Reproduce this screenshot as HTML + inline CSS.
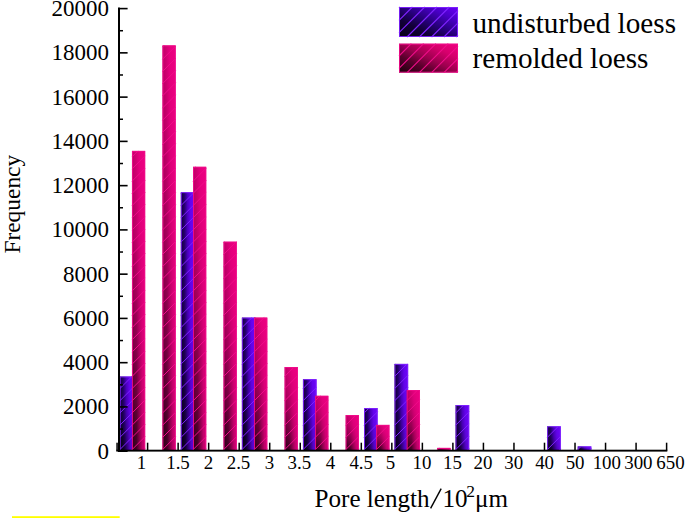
<!DOCTYPE html>
<html><head><meta charset="utf-8"><style>
html,body{margin:0;padding:0;background:#fff;}
svg{display:block;}
text{font-family:"Liberation Serif",serif;fill:#000;}
.yl{font-size:23.8px;}
.xl{font-size:18.9px;}
.t{font-size:25.1px;}
.f{font-size:23.4px;}
.lg{font-size:29.2px;}
</style></head><body>
<svg width="685" height="518" viewBox="0 0 685 518">
<defs>
<linearGradient id="hb" x1="0" y1="0" x2="1" y2="0">
 <stop offset="0" stop-color="#140038"/><stop offset="0.25" stop-color="#24006c"/><stop offset="0.5" stop-color="#5000c8"/><stop offset="0.7" stop-color="#6404ee"/><stop offset="1" stop-color="#6e08fa"/>
</linearGradient>
<linearGradient id="hp" x1="0" y1="0" x2="1" y2="0">
 <stop offset="0" stop-color="#c00068"/><stop offset="0.3" stop-color="#d40074"/><stop offset="0.55" stop-color="#e6007e"/><stop offset="1" stop-color="#ee0082"/>
</linearGradient>
<linearGradient id="vb" x1="0" y1="0" x2="0" y2="1">
 <stop offset="0" stop-color="#000" stop-opacity="0"/><stop offset="0.4" stop-color="#000" stop-opacity="0.12"/><stop offset="0.7" stop-color="#000" stop-opacity="0.38"/><stop offset="1" stop-color="#000" stop-opacity="0.72"/>
</linearGradient>
<linearGradient id="vp" x1="0" y1="0" x2="0" y2="1">
 <stop offset="0" stop-color="#000" stop-opacity="0"/><stop offset="0.3" stop-color="#000" stop-opacity="0.12"/><stop offset="0.55" stop-color="#000" stop-opacity="0.3"/><stop offset="0.8" stop-color="#000" stop-opacity="0.55"/><stop offset="1" stop-color="#000" stop-opacity="0.8"/>
</linearGradient>
<linearGradient id="mg" x1="0" y1="0" x2="1" y2="0">
 <stop offset="0" stop-color="#fff"/><stop offset="0.35" stop-color="#e0e0e0"/><stop offset="0.6" stop-color="#808080"/><stop offset="0.8" stop-color="#383838"/><stop offset="1" stop-color="#282828"/>
</linearGradient>
<linearGradient id="lb" x1="0" y1="1" x2="1" y2="0">
 <stop offset="0" stop-color="#050012"/><stop offset="0.3" stop-color="#120038"/><stop offset="0.5" stop-color="#260078"/><stop offset="0.75" stop-color="#4800c4"/><stop offset="1" stop-color="#6a00fa"/>
</linearGradient>
<linearGradient id="lp" x1="0" y1="1" x2="1" y2="0">
 <stop offset="0" stop-color="#1c000c"/><stop offset="0.3" stop-color="#5a002c"/><stop offset="0.5" stop-color="#9c004e"/><stop offset="0.75" stop-color="#d6006c"/><stop offset="1" stop-color="#f20082"/>
</linearGradient>
<mask id="mk" maskContentUnits="objectBoundingBox"><rect width="1" height="1" fill="url(#mg)"/></mask>
</defs>
<rect width="685" height="518" fill="#fff"/>
<rect x="119.77" y="376.50" width="13.60" height="73.50" fill="url(#hb)"/>
<rect x="119.77" y="376.50" width="13.60" height="73.50" fill="url(#vb)" mask="url(#mk)"/>
<path d="M131.67 450.00L133.37 448.30M119.77 449.70L133.37 436.10M119.77 437.50L133.37 423.90M119.77 425.30L133.37 411.70M119.77 413.10L133.37 399.50M119.77 400.90L133.37 387.30M119.77 388.70L131.97 376.50M119.77 376.50L119.77 376.50" stroke="#7f22ff" stroke-width="1" fill="none"/>
<rect x="120.22" y="376.95" width="12.70" height="73.50" fill="none" stroke="#7f22ff" stroke-width="0.9"/>
<rect x="131.97" y="150.90" width="13.20" height="299.10" fill="url(#hp)"/>
<rect x="131.97" y="150.90" width="13.20" height="299.10" fill="url(#vp)" mask="url(#mk)"/>
<path d="M143.87 450.00L145.17 448.70M131.97 449.70L145.17 436.50M131.97 437.50L145.17 424.30M131.97 425.30L145.17 412.10M131.97 413.10L145.17 399.90M131.97 400.90L145.17 387.70M131.97 388.70L145.17 375.50M131.97 376.50L145.17 363.30M131.97 364.30L145.17 351.10M131.97 352.10L145.17 338.90M131.97 339.90L145.17 326.70M131.97 327.70L145.17 314.50M131.97 315.50L145.17 302.30M131.97 303.30L145.17 290.10M131.97 291.10L145.17 277.90M131.97 278.90L145.17 265.70M131.97 266.70L145.17 253.50M131.97 254.50L145.17 241.30M131.97 242.30L145.17 229.10M131.97 230.10L145.17 216.90M131.97 217.90L145.17 204.70M131.97 205.70L145.17 192.50M131.97 193.50L145.17 180.30M131.97 181.30L145.17 168.10M131.97 169.10L145.17 155.90M131.97 156.90L137.97 150.90" stroke="#f00c8a" stroke-width="1" fill="none"/>
<rect x="132.42" y="151.35" width="12.30" height="299.10" fill="none" stroke="#f00c8a" stroke-width="0.9"/>
<rect x="162.50" y="45.40" width="13.20" height="404.60" fill="url(#hp)"/>
<rect x="162.50" y="45.40" width="13.20" height="404.60" fill="url(#vp)" mask="url(#mk)"/>
<path d="M174.40 450.00L175.70 448.70M162.50 449.70L175.70 436.50M162.50 437.50L175.70 424.30M162.50 425.30L175.70 412.10M162.50 413.10L175.70 399.90M162.50 400.90L175.70 387.70M162.50 388.70L175.70 375.50M162.50 376.50L175.70 363.30M162.50 364.30L175.70 351.10M162.50 352.10L175.70 338.90M162.50 339.90L175.70 326.70M162.50 327.70L175.70 314.50M162.50 315.50L175.70 302.30M162.50 303.30L175.70 290.10M162.50 291.10L175.70 277.90M162.50 278.90L175.70 265.70M162.50 266.70L175.70 253.50M162.50 254.50L175.70 241.30M162.50 242.30L175.70 229.10M162.50 230.10L175.70 216.90M162.50 217.90L175.70 204.70M162.50 205.70L175.70 192.50M162.50 193.50L175.70 180.30M162.50 181.30L175.70 168.10M162.50 169.10L175.70 155.90M162.50 156.90L175.70 143.70M162.50 144.70L175.70 131.50M162.50 132.50L175.70 119.30M162.50 120.30L175.70 107.10M162.50 108.10L175.70 94.90M162.50 95.90L175.70 82.70M162.50 83.70L175.70 70.50M162.50 71.50L175.70 58.30M162.50 59.30L175.70 46.10M162.50 47.10L164.20 45.40" stroke="#f00c8a" stroke-width="1" fill="none"/>
<rect x="162.95" y="45.85" width="12.30" height="404.60" fill="none" stroke="#f00c8a" stroke-width="0.9"/>
<rect x="180.83" y="192.20" width="13.60" height="257.80" fill="url(#hb)"/>
<rect x="180.83" y="192.20" width="13.60" height="257.80" fill="url(#vb)" mask="url(#mk)"/>
<path d="M192.73 450.00L194.43 448.30M180.83 449.70L194.43 436.10M180.83 437.50L194.43 423.90M180.83 425.30L194.43 411.70M180.83 413.10L194.43 399.50M180.83 400.90L194.43 387.30M180.83 388.70L194.43 375.10M180.83 376.50L194.43 362.90M180.83 364.30L194.43 350.70M180.83 352.10L194.43 338.50M180.83 339.90L194.43 326.30M180.83 327.70L194.43 314.10M180.83 315.50L194.43 301.90M180.83 303.30L194.43 289.70M180.83 291.10L194.43 277.50M180.83 278.90L194.43 265.30M180.83 266.70L194.43 253.10M180.83 254.50L194.43 240.90M180.83 242.30L194.43 228.70M180.83 230.10L194.43 216.50M180.83 217.90L194.43 204.30M180.83 205.70L194.33 192.20M180.83 193.50L182.13 192.20" stroke="#7f22ff" stroke-width="1" fill="none"/>
<rect x="181.28" y="192.65" width="12.70" height="257.80" fill="none" stroke="#7f22ff" stroke-width="0.9"/>
<rect x="193.03" y="166.80" width="13.20" height="283.20" fill="url(#hp)"/>
<rect x="193.03" y="166.80" width="13.20" height="283.20" fill="url(#vp)" mask="url(#mk)"/>
<path d="M204.93 450.00L206.23 448.70M193.03 449.70L206.23 436.50M193.03 437.50L206.23 424.30M193.03 425.30L206.23 412.10M193.03 413.10L206.23 399.90M193.03 400.90L206.23 387.70M193.03 388.70L206.23 375.50M193.03 376.50L206.23 363.30M193.03 364.30L206.23 351.10M193.03 352.10L206.23 338.90M193.03 339.90L206.23 326.70M193.03 327.70L206.23 314.50M193.03 315.50L206.23 302.30M193.03 303.30L206.23 290.10M193.03 291.10L206.23 277.90M193.03 278.90L206.23 265.70M193.03 266.70L206.23 253.50M193.03 254.50L206.23 241.30M193.03 242.30L206.23 229.10M193.03 230.10L206.23 216.90M193.03 217.90L206.23 204.70M193.03 205.70L206.23 192.50M193.03 193.50L206.23 180.30M193.03 181.30L206.23 168.10M193.03 169.10L195.33 166.80" stroke="#f00c8a" stroke-width="1" fill="none"/>
<rect x="193.48" y="167.25" width="12.30" height="283.20" fill="none" stroke="#f00c8a" stroke-width="0.9"/>
<rect x="223.56" y="241.70" width="13.20" height="208.30" fill="url(#hp)"/>
<rect x="223.56" y="241.70" width="13.20" height="208.30" fill="url(#vp)" mask="url(#mk)"/>
<path d="M235.46 450.00L236.76 448.70M223.56 449.70L236.76 436.50M223.56 437.50L236.76 424.30M223.56 425.30L236.76 412.10M223.56 413.10L236.76 399.90M223.56 400.90L236.76 387.70M223.56 388.70L236.76 375.50M223.56 376.50L236.76 363.30M223.56 364.30L236.76 351.10M223.56 352.10L236.76 338.90M223.56 339.90L236.76 326.70M223.56 327.70L236.76 314.50M223.56 315.50L236.76 302.30M223.56 303.30L236.76 290.10M223.56 291.10L236.76 277.90M223.56 278.90L236.76 265.70M223.56 266.70L236.76 253.50M223.56 254.50L236.36 241.70M223.56 242.30L224.16 241.70" stroke="#f00c8a" stroke-width="1" fill="none"/>
<rect x="224.01" y="242.15" width="12.30" height="208.30" fill="none" stroke="#f00c8a" stroke-width="0.9"/>
<rect x="241.89" y="317.60" width="13.60" height="132.40" fill="url(#hb)"/>
<rect x="241.89" y="317.60" width="13.60" height="132.40" fill="url(#vb)" mask="url(#mk)"/>
<path d="M253.79 450.00L255.49 448.30M241.89 449.70L255.49 436.10M241.89 437.50L255.49 423.90M241.89 425.30L255.49 411.70M241.89 413.10L255.49 399.50M241.89 400.90L255.49 387.30M241.89 388.70L255.49 375.10M241.89 376.50L255.49 362.90M241.89 364.30L255.49 350.70M241.89 352.10L255.49 338.50M241.89 339.90L255.49 326.30M241.89 327.70L251.99 317.60" stroke="#7f22ff" stroke-width="1" fill="none"/>
<rect x="242.34" y="318.05" width="12.70" height="132.40" fill="none" stroke="#7f22ff" stroke-width="0.9"/>
<rect x="254.09" y="317.60" width="13.20" height="132.40" fill="url(#hp)"/>
<rect x="254.09" y="317.60" width="13.20" height="132.40" fill="url(#vp)" mask="url(#mk)"/>
<path d="M265.99 450.00L267.29 448.70M254.09 449.70L267.29 436.50M254.09 437.50L267.29 424.30M254.09 425.30L267.29 412.10M254.09 413.10L267.29 399.90M254.09 400.90L267.29 387.70M254.09 388.70L267.29 375.50M254.09 376.50L267.29 363.30M254.09 364.30L267.29 351.10M254.09 352.10L267.29 338.90M254.09 339.90L267.29 326.70M254.09 327.70L264.19 317.60" stroke="#f00c8a" stroke-width="1" fill="none"/>
<rect x="254.54" y="318.05" width="12.30" height="132.40" fill="none" stroke="#f00c8a" stroke-width="0.9"/>
<rect x="284.62" y="367.00" width="13.20" height="83.00" fill="url(#hp)"/>
<rect x="284.62" y="367.00" width="13.20" height="83.00" fill="url(#vp)" mask="url(#mk)"/>
<path d="M296.52 450.00L297.82 448.70M284.62 449.70L297.82 436.50M284.62 437.50L297.82 424.30M284.62 425.30L297.82 412.10M284.62 413.10L297.82 399.90M284.62 400.90L297.82 387.70M284.62 388.70L297.82 375.50M284.62 376.50L294.12 367.00" stroke="#f00c8a" stroke-width="1" fill="none"/>
<rect x="285.07" y="367.45" width="12.30" height="83.00" fill="none" stroke="#f00c8a" stroke-width="0.9"/>
<rect x="302.95" y="379.20" width="13.60" height="70.80" fill="url(#hb)"/>
<rect x="302.95" y="379.20" width="13.60" height="70.80" fill="url(#vb)" mask="url(#mk)"/>
<path d="M314.85 450.00L316.55 448.30M302.95 449.70L316.55 436.10M302.95 437.50L316.55 423.90M302.95 425.30L316.55 411.70M302.95 413.10L316.55 399.50M302.95 400.90L316.55 387.30M302.95 388.70L312.45 379.20" stroke="#7f22ff" stroke-width="1" fill="none"/>
<rect x="303.40" y="379.65" width="12.70" height="70.80" fill="none" stroke="#7f22ff" stroke-width="0.9"/>
<rect x="315.15" y="395.80" width="13.20" height="54.20" fill="url(#hp)"/>
<rect x="315.15" y="395.80" width="13.20" height="54.20" fill="url(#vp)" mask="url(#mk)"/>
<path d="M327.05 450.00L328.35 448.70M315.15 449.70L328.35 436.50M315.15 437.50L328.35 424.30M315.15 425.30L328.35 412.10M315.15 413.10L328.35 399.90M315.15 400.90L320.25 395.80" stroke="#f00c8a" stroke-width="1" fill="none"/>
<rect x="315.60" y="396.25" width="12.30" height="54.20" fill="none" stroke="#f00c8a" stroke-width="0.9"/>
<rect x="345.68" y="415.10" width="13.20" height="34.90" fill="url(#hp)"/>
<rect x="345.68" y="415.10" width="13.20" height="34.90" fill="url(#vp)" mask="url(#mk)"/>
<path d="M357.58 450.00L358.88 448.70M345.68 449.70L358.88 436.50M345.68 437.50L358.88 424.30M345.68 425.30L355.88 415.10" stroke="#f00c8a" stroke-width="1" fill="none"/>
<rect x="346.13" y="415.55" width="12.30" height="34.90" fill="none" stroke="#f00c8a" stroke-width="0.9"/>
<rect x="364.01" y="408.00" width="13.60" height="42.00" fill="url(#hb)"/>
<rect x="364.01" y="408.00" width="13.60" height="42.00" fill="url(#vb)" mask="url(#mk)"/>
<path d="M375.91 450.00L377.61 448.30M364.01 449.70L377.61 436.10M364.01 437.50L377.61 423.90M364.01 425.30L377.61 411.70M364.01 413.10L369.11 408.00" stroke="#7f22ff" stroke-width="1" fill="none"/>
<rect x="364.46" y="408.45" width="12.70" height="42.00" fill="none" stroke="#7f22ff" stroke-width="0.9"/>
<rect x="376.21" y="424.90" width="13.20" height="25.10" fill="url(#hp)"/>
<rect x="376.21" y="424.90" width="13.20" height="25.10" fill="url(#vp)" mask="url(#mk)"/>
<path d="M388.11 450.00L389.41 448.70M376.21 449.70L389.41 436.50M376.21 437.50L388.81 424.90M376.21 425.30L376.61 424.90" stroke="#f00c8a" stroke-width="1" fill="none"/>
<rect x="376.66" y="425.35" width="12.30" height="25.10" fill="none" stroke="#f00c8a" stroke-width="0.9"/>
<rect x="394.54" y="363.90" width="13.60" height="86.10" fill="url(#hb)"/>
<rect x="394.54" y="363.90" width="13.60" height="86.10" fill="url(#vb)" mask="url(#mk)"/>
<path d="M406.44 450.00L408.14 448.30M394.54 449.70L408.14 436.10M394.54 437.50L408.14 423.90M394.54 425.30L408.14 411.70M394.54 413.10L408.14 399.50M394.54 400.90L408.14 387.30M394.54 388.70L408.14 375.10M394.54 376.50L407.14 363.90M394.54 364.30L394.94 363.90" stroke="#7f22ff" stroke-width="1" fill="none"/>
<rect x="394.99" y="364.35" width="12.70" height="86.10" fill="none" stroke="#7f22ff" stroke-width="0.9"/>
<rect x="406.74" y="390.00" width="13.20" height="60.00" fill="url(#hp)"/>
<rect x="406.74" y="390.00" width="13.20" height="60.00" fill="url(#vp)" mask="url(#mk)"/>
<path d="M418.64 450.00L419.94 448.70M406.74 449.70L419.94 436.50M406.74 437.50L419.94 424.30M406.74 425.30L419.94 412.10M406.74 413.10L419.94 399.90M406.74 400.90L417.64 390.00" stroke="#f00c8a" stroke-width="1" fill="none"/>
<rect x="407.19" y="390.45" width="12.30" height="60.00" fill="none" stroke="#f00c8a" stroke-width="0.9"/>
<rect x="437.27" y="447.90" width="13.20" height="2.10" fill="url(#hp)"/>
<rect x="437.27" y="447.90" width="13.20" height="2.10" fill="url(#vp)" mask="url(#mk)"/>
<path d="M449.17 450.00L450.47 448.70M437.27 449.70L439.07 447.90" stroke="#f00c8a" stroke-width="1" fill="none"/>
<rect x="437.72" y="448.35" width="12.30" height="2.10" fill="none" stroke="#f00c8a" stroke-width="0.9"/>
<rect x="455.60" y="405.00" width="13.60" height="45.00" fill="url(#hb)"/>
<rect x="455.60" y="405.00" width="13.60" height="45.00" fill="url(#vb)" mask="url(#mk)"/>
<path d="M467.50 450.00L469.20 448.30M455.60 449.70L469.20 436.10M455.60 437.50L469.20 423.90M455.60 425.30L469.20 411.70M455.60 413.10L463.70 405.00" stroke="#7f22ff" stroke-width="1" fill="none"/>
<rect x="456.05" y="405.45" width="12.70" height="45.00" fill="none" stroke="#7f22ff" stroke-width="0.9"/>
<rect x="547.19" y="426.30" width="13.60" height="23.70" fill="url(#hb)"/>
<rect x="547.19" y="426.30" width="13.60" height="23.70" fill="url(#vb)" mask="url(#mk)"/>
<path d="M559.09 450.00L560.79 448.30M547.19 449.70L560.79 436.10M547.19 437.50L558.39 426.30" stroke="#7f22ff" stroke-width="1" fill="none"/>
<rect x="547.64" y="426.75" width="12.70" height="23.70" fill="none" stroke="#7f22ff" stroke-width="0.9"/>
<rect x="577.72" y="446.40" width="13.60" height="3.60" fill="url(#hb)"/>
<rect x="577.72" y="446.40" width="13.60" height="3.60" fill="url(#vb)" mask="url(#mk)"/>
<path d="M589.62 450.00L591.32 448.30M577.72 449.70L581.02 446.40" stroke="#7f22ff" stroke-width="1" fill="none"/>
<rect x="578.17" y="446.85" width="12.70" height="3.60" fill="none" stroke="#7f22ff" stroke-width="0.9"/>
<rect x="118" y="7.6" width="2" height="444" fill="#000"/>
<rect x="116.3" y="449.7" width="551" height="1.9" fill="#000"/>
<rect x="116.32" y="442.7" width="1.5" height="8" fill="#000"/>
<rect x="146.85" y="442.7" width="1.5" height="8" fill="#000"/>
<rect x="177.38" y="442.7" width="1.5" height="8" fill="#000"/>
<rect x="207.91" y="442.7" width="1.5" height="8" fill="#000"/>
<rect x="238.44" y="442.7" width="1.5" height="8" fill="#000"/>
<rect x="268.97" y="442.7" width="1.5" height="8" fill="#000"/>
<rect x="299.50" y="442.7" width="1.5" height="8" fill="#000"/>
<rect x="330.03" y="442.7" width="1.5" height="8" fill="#000"/>
<rect x="360.56" y="442.7" width="1.5" height="8" fill="#000"/>
<rect x="391.09" y="442.7" width="1.5" height="8" fill="#000"/>
<rect x="421.62" y="442.7" width="1.5" height="8" fill="#000"/>
<rect x="452.15" y="442.7" width="1.5" height="8" fill="#000"/>
<rect x="482.68" y="442.7" width="1.5" height="8" fill="#000"/>
<rect x="513.21" y="442.7" width="1.5" height="8" fill="#000"/>
<rect x="543.74" y="442.7" width="1.5" height="8" fill="#000"/>
<rect x="574.27" y="442.7" width="1.5" height="8" fill="#000"/>
<rect x="604.80" y="442.7" width="1.5" height="8" fill="#000"/>
<rect x="635.33" y="442.7" width="1.5" height="8" fill="#000"/>
<rect x="665.86" y="442.7" width="1.5" height="8" fill="#000"/>
<rect x="118" y="7.80" width="9.6" height="1.6" fill="#000"/>
<rect x="118" y="29.98" width="5" height="1.5" fill="#000"/>
<rect x="118" y="52.06" width="9.6" height="1.6" fill="#000"/>
<rect x="118" y="74.24" width="5" height="1.5" fill="#000"/>
<rect x="118" y="96.32" width="9.6" height="1.6" fill="#000"/>
<rect x="118" y="118.50" width="5" height="1.5" fill="#000"/>
<rect x="118" y="140.58" width="9.6" height="1.6" fill="#000"/>
<rect x="118" y="162.76" width="5" height="1.5" fill="#000"/>
<rect x="118" y="184.84" width="9.6" height="1.6" fill="#000"/>
<rect x="118" y="207.02" width="5" height="1.5" fill="#000"/>
<rect x="118" y="229.10" width="9.6" height="1.6" fill="#000"/>
<rect x="118" y="251.28" width="5" height="1.5" fill="#000"/>
<rect x="118" y="273.36" width="9.6" height="1.6" fill="#000"/>
<rect x="118" y="295.54" width="5" height="1.5" fill="#000"/>
<rect x="118" y="317.62" width="9.6" height="1.6" fill="#000"/>
<rect x="118" y="339.80" width="5" height="1.5" fill="#000"/>
<rect x="118" y="361.88" width="9.6" height="1.6" fill="#000"/>
<rect x="118" y="384.06" width="5" height="1.5" fill="#000"/>
<rect x="118" y="406.14" width="9.6" height="1.6" fill="#000"/>
<rect x="118" y="428.32" width="5" height="1.5" fill="#000"/>
<rect x="118" y="450.40" width="9.6" height="1.6" fill="#000"/>
<text transform="translate(108.9 16.10) scale(0.965 1)" text-anchor="end" class="yl">20000</text>
<text transform="translate(108.9 60.36) scale(0.965 1)" text-anchor="end" class="yl">18000</text>
<text transform="translate(108.9 104.62) scale(0.965 1)" text-anchor="end" class="yl">16000</text>
<text transform="translate(108.9 148.88) scale(0.965 1)" text-anchor="end" class="yl">14000</text>
<text transform="translate(108.9 193.14) scale(0.965 1)" text-anchor="end" class="yl">12000</text>
<text transform="translate(108.9 237.40) scale(0.965 1)" text-anchor="end" class="yl">10000</text>
<text transform="translate(108.9 281.66) scale(0.965 1)" text-anchor="end" class="yl">8000</text>
<text transform="translate(108.9 325.92) scale(0.965 1)" text-anchor="end" class="yl">6000</text>
<text transform="translate(108.9 370.18) scale(0.965 1)" text-anchor="end" class="yl">4000</text>
<text transform="translate(108.9 414.44) scale(0.965 1)" text-anchor="end" class="yl">2000</text>
<text transform="translate(108.9 458.70) scale(0.965 1)" text-anchor="end" class="yl">0</text>
<text x="141.50" y="468.5" text-anchor="middle" class="xl">1</text>
<text x="178.00" y="468.5" text-anchor="middle" class="xl">1.5</text>
<text x="208.40" y="468.5" text-anchor="middle" class="xl">2</text>
<text x="238.50" y="468.5" text-anchor="middle" class="xl">2.5</text>
<text x="269.60" y="468.5" text-anchor="middle" class="xl">3</text>
<text x="299.40" y="468.5" text-anchor="middle" class="xl">3.5</text>
<text x="330.40" y="468.5" text-anchor="middle" class="xl">4</text>
<text x="361.20" y="468.5" text-anchor="middle" class="xl">4.5</text>
<text x="390.60" y="468.5" text-anchor="middle" class="xl">5</text>
<text x="422.00" y="468.5" text-anchor="middle" class="xl">10</text>
<text x="452.40" y="468.5" text-anchor="middle" class="xl">15</text>
<text x="483.00" y="468.5" text-anchor="middle" class="xl">20</text>
<text x="513.80" y="468.5" text-anchor="middle" class="xl">30</text>
<text x="544.60" y="468.5" text-anchor="middle" class="xl">40</text>
<text x="575.10" y="468.5" text-anchor="middle" class="xl">50</text>
<text x="606.80" y="468.5" text-anchor="middle" class="xl">100</text>
<text x="638.40" y="468.5" text-anchor="middle" class="xl">300</text>
<text x="670.50" y="468.5" text-anchor="middle" class="xl">650</text>
<text x="314.6" y="507.2" class="t">Pore length</text>
<path d="M430.6 508.3L441.2 488.6" stroke="#000" stroke-width="1.4" fill="none"/>
<text x="442.4" y="507.2" class="t">10</text>
<text x="466.2" y="496.7" font-size="17.5">2</text>
<text x="475.0" y="507.2" class="t">μm</text>
<text transform="translate(20.4,204.2) rotate(-90)" text-anchor="middle" class="f">Frequency</text>
<rect x="399.00" y="7.00" width="59.00" height="30.00" fill="url(#lb)"/>
<path d="M456.20 37.00L458.00 35.20M443.90 37.00L458.00 22.90M431.60 37.00L458.00 10.60M419.30 37.00L449.30 7.00M407.00 37.00L437.00 7.00M399.00 32.70L424.70 7.00M399.00 20.40L412.40 7.00M399.00 8.10L400.10 7.00" stroke="#7f22ff" stroke-width="1.1" fill="none"/>
<rect x="399.45" y="7.45" width="58.10" height="29.10" fill="none" stroke="#7f22ff" stroke-width="0.9"/>
<rect x="399.00" y="43.70" width="59.00" height="28.90" fill="url(#lp)"/>
<path d="M456.20 72.60L458.00 70.80M443.90 72.60L458.00 58.50M431.60 72.60L458.00 46.20M419.30 72.60L448.20 43.70M407.00 72.60L435.90 43.70M399.00 68.30L423.60 43.70M399.00 56.00L411.30 43.70" stroke="#f00c8a" stroke-width="1.1" fill="none"/>
<rect x="399.45" y="44.15" width="58.10" height="28.00" fill="none" stroke="#f00c8a" stroke-width="0.9"/>
<text x="472.5" y="32.6" class="lg">undisturbed loess</text>
<text x="472.5" y="68.45" class="lg">remolded loess</text>
<rect x="12" y="516.2" width="107.7" height="1.8" fill="#ffff00"/>
</svg></body></html>
